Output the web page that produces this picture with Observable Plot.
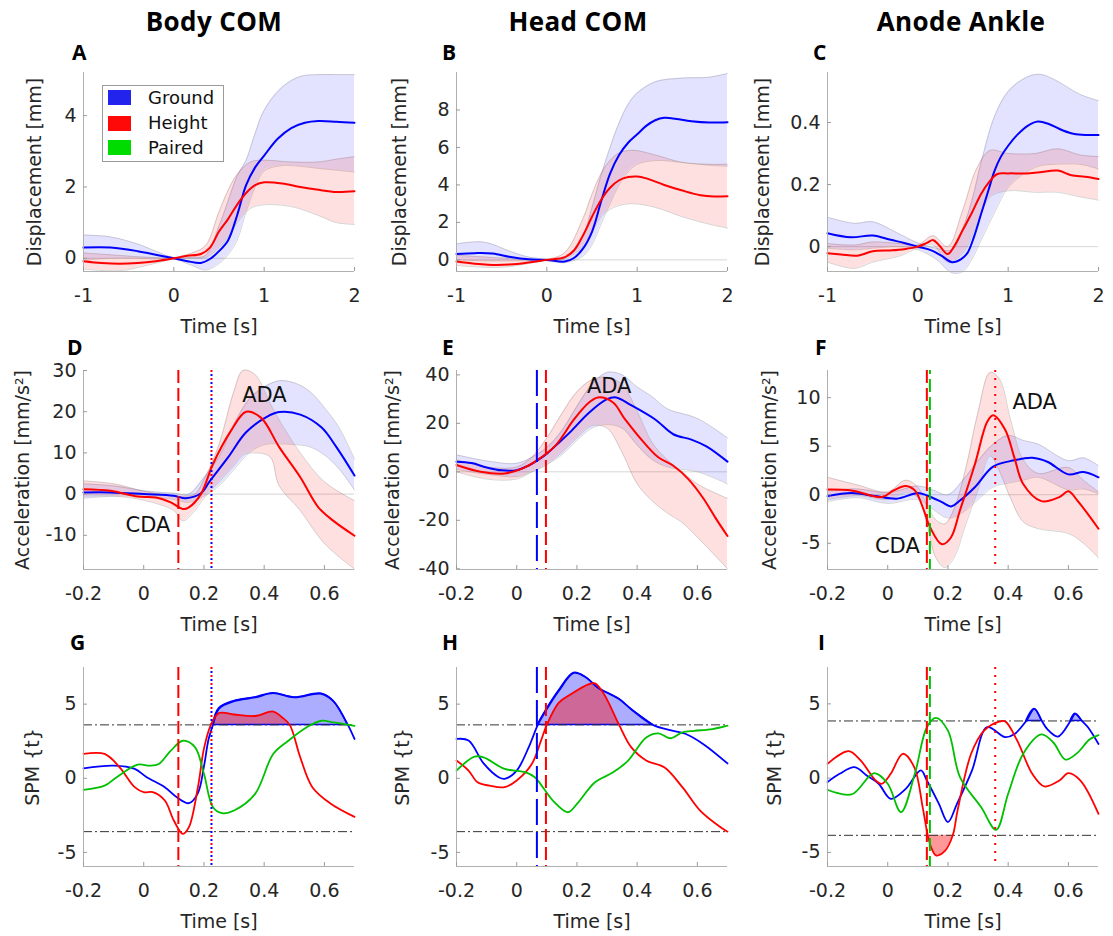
<!DOCTYPE html>
<html><head><meta charset="utf-8">
<script src="https://cdn.jsdelivr.net/npm/d3@7"></script>
<script src="https://cdn.jsdelivr.net/npm/@observablehq/plot@0.6"></script>
<style>
body{margin:0;background:#fff;}
#root{position:relative;width:1113px;height:936px;overflow:hidden;background:#fff;font-family:'DejaVu Sans',sans-serif;}
.title{position:absolute;top:6px;width:260px;text-align:center;font:bold 26px/30px 'Open Sans',sans-serif;letter-spacing:0.4px;color:#000;}
.letter{position:absolute;font:bold 21px/24px 'Open Sans',sans-serif;color:#000;}
.panel{position:absolute;}
.legend{position:absolute;left:102px;top:85px;width:120px;height:75px;border:1px solid #9a9a9a;background:#fff;}
.sw{position:absolute;left:5px;width:23px;height:15px;}
.lt{position:absolute;left:45px;font:18px/20px 'DejaVu Sans',sans-serif;color:#111;}
</style></head>
<body><div id="root"></div>
<script>
// ---------- categories / labels ----------
const columnTitles = ["Body COM", "Head COM", "Anode Ankle"];
const panelLetters = ["A","B","C","D","E","F","G","H","I"];
const legendNames = ["Ground", "Height", "Paired"];
const row1XTicks = [-1, 0, 1, 2];
const row23XTicks = [-0.2, 0, 0.2, 0.4, 0.6];
const A_yTicks = [0, 2, 4];
const B_yTicks = [0, 2, 4, 6, 8];
const C_yTicks = [0, 0.2, 0.4];
const D_yTicks = [-10, 0, 10, 20, 30];
const E_yTicks = [-40, -20, 0, 20, 40];
const F_yTicks = [-5, 0, 5, 10];
const spmYTicks = [-5, 0, 5];

// ---------- Row 1: displacement (mean [t,v], band [t,lo,hi]) ----------
const A_ground = [[-1,0.3],[-0.7,0.3],[-0.4,0.2],[-0.2,0.1],[0,0],[0.15,-0.08],[0.3,-0.13],[0.4,-0.02],[0.5,0.2],[0.6,0.5],[0.7,1.2],[0.8,2.05],[0.9,2.55],[1.0,2.88],[1.15,3.35],[1.3,3.65],[1.45,3.8],[1.6,3.85],[1.8,3.83],[2.0,3.8]];
const A_groundBand = [[-1,-0.05,0.65],[-0.7,0.0,0.6],[-0.4,0.0,0.4],[-0.2,-0.02,0.2],[0,-0.02,0.02],[0.2,-0.2,0.03],[0.35,-0.33,0.08],[0.5,-0.15,0.9],[0.6,0.1,1.6],[0.7,0.5,2.3],[0.8,1.3,2.75],[0.9,2.0,3.5],[1.0,2.45,4.15],[1.2,2.6,4.8],[1.4,2.58,5.1],[1.6,2.52,5.15],[1.8,2.47,5.15],[2.0,2.42,5.15]];
const A_height = [[-1,-0.08],[-0.8,-0.13],[-0.6,-0.15],[-0.4,-0.13],[-0.2,-0.08],[0,0],[0.15,0.07],[0.3,0.12],[0.4,0.3],[0.5,0.75],[0.6,1.1],[0.7,1.5],[0.8,1.83],[0.9,2.05],[1.0,2.13],[1.2,2.1],[1.4,2.0],[1.6,1.92],[1.8,1.86],[2.0,1.88]];
const A_heightBand = [[-1,-0.3,0.15],[-0.6,-0.35,0.08],[-0.3,-0.2,0.03],[0,-0.02,0.02],[0.2,0.0,0.15],[0.35,0.02,0.35],[0.5,0.3,1.3],[0.6,0.6,1.9],[0.7,1.0,2.35],[0.85,1.4,2.7],[1.0,1.5,2.75],[1.3,1.45,2.7],[1.6,1.2,2.7],[1.8,1.0,2.78],[2.0,0.95,2.85]];

const B_ground = [[-1,0.32],[-0.8,0.36],[-0.6,0.34],[-0.4,0.15],[-0.2,0.03],[0,0],[0.2,-0.09],[0.3,0.1],[0.4,0.6],[0.5,1.5],[0.6,3.1],[0.7,4.6],[0.8,5.6],[0.9,6.25],[1.0,6.7],[1.1,7.15],[1.2,7.45],[1.3,7.58],[1.4,7.55],[1.6,7.4],[1.8,7.33],[2.0,7.35]];
const B_groundBand = [[-1,0.0,0.85],[-0.7,-0.05,0.95],[-0.4,-0.05,0.45],[-0.2,-0.05,0.15],[0,-0.05,0.05],[0.2,-0.15,0.1],[0.4,0.2,1.3],[0.5,0.8,2.8],[0.6,1.9,4.5],[0.7,3.0,6.0],[0.8,4.0,7.3],[0.9,4.7,8.3],[1.0,5.1,8.9],[1.2,5.3,9.5],[1.5,5.2,9.7],[1.8,5.05,9.75],[2.0,5.0,9.95]];
const B_height = [[-1,-0.09],[-0.8,-0.2],[-0.55,-0.27],[-0.3,-0.2],[0,0],[0.2,0.15],[0.3,0.5],[0.4,1.3],[0.5,2.3],[0.6,3.2],[0.7,3.85],[0.8,4.25],[0.9,4.42],[1.0,4.45],[1.1,4.35],[1.3,4.0],[1.5,3.7],[1.7,3.45],[1.85,3.38],[2.0,3.4]];
const B_heightBand = [[-1,-0.3,0.25],[-0.5,-0.4,0.1],[0,-0.03,0.03],[0.2,0.05,0.4],[0.4,0.7,2.2],[0.5,1.5,3.5],[0.6,2.3,4.6],[0.7,2.7,5.3],[0.8,2.9,5.7],[0.95,3.0,5.85],[1.2,2.8,5.6],[1.5,2.3,5.2],[1.8,1.9,5.1],[2.0,1.7,5.1]];

const C_ground = [[-1,0.043],[-0.74,0.03],[-0.5,0.036],[-0.3,0.022],[-0.15,0.012],[0,0],[0.15,-0.012],[0.26,-0.029],[0.38,-0.05],[0.48,-0.04],[0.55,-0.02],[0.62,0.03],[0.7,0.105],[0.78,0.18],[0.85,0.245],[0.92,0.29],[1.0,0.325],[1.1,0.36],[1.22,0.39],[1.33,0.403],[1.45,0.395],[1.6,0.375],[1.75,0.362],[2.0,0.36]];
const C_groundBand = [[-1,-0.005,0.095],[-0.7,-0.01,0.075],[-0.5,-0.005,0.08],[-0.2,0.0,0.04],[0,-0.01,0.012],[0.2,-0.04,-0.005],[0.38,-0.085,-0.01],[0.5,-0.08,0.06],[0.6,-0.04,0.15],[0.7,0.02,0.27],[0.85,0.11,0.42],[1.0,0.19,0.5],[1.2,0.24,0.545],[1.35,0.26,0.555],[1.5,0.265,0.54],[1.8,0.265,0.49],[2.0,0.25,0.47]];
const C_height = [[-1,-0.021],[-0.85,-0.025],[-0.67,-0.029],[-0.5,-0.015],[-0.3,-0.012],[-0.15,-0.008],[0,0],[0.1,0.012],[0.17,0.021],[0.24,0.003],[0.33,-0.024],[0.4,0.0],[0.5,0.055],[0.6,0.11],[0.7,0.17],[0.78,0.205],[0.88,0.234],[1.0,0.236],[1.2,0.236],[1.35,0.24],[1.55,0.245],[1.7,0.23],[1.85,0.225],[2.0,0.218]];
const C_heightBand = [[-1,-0.05,0.01],[-0.7,-0.07,0.005],[-0.5,-0.05,0.015],[-0.2,-0.03,0.01],[0,-0.005,0.005],[0.17,0.005,0.035],[0.33,-0.05,0.0],[0.5,-0.02,0.12],[0.65,0.07,0.25],[0.8,0.16,0.31],[1.0,0.18,0.3],[1.3,0.175,0.3],[1.55,0.175,0.315],[1.8,0.16,0.295],[2.0,0.15,0.29]];

// ---------- Row 2: acceleration ----------
const D_ground = [[-0.2,0.4],[-0.11,0.4],[0,0],[0.1,-0.4],[0.14,-1.0],[0.19,0.2],[0.22,3.2],[0.28,8.9],[0.34,15],[0.41,18.8],[0.45,19.9],[0.52,19.3],[0.59,16.2],[0.64,11.4],[0.7,4.5]];
const D_groundBand = [[-0.2,-1,2.5],[-0.1,-0.5,2.0],[0,-0.5,0.8],[0.1,-1.3,0.2],[0.15,-2,0],[0.2,-0.5,4],[0.25,2,9],[0.3,6,17],[0.35,10,23],[0.4,12,26],[0.45,12.2,27.5],[0.5,12,27],[0.55,11.5,25],[0.6,9.5,21],[0.65,6,16],[0.7,1,8.5]];
const D_height = [[-0.2,1.2],[-0.11,0.8],[-0.02,-0.6],[0.04,-0.8],[0.09,-2.0],[0.13,-3.6],[0.15,-3.2],[0.19,0],[0.23,7.3],[0.29,15.4],[0.34,20],[0.39,18.5],[0.45,11.4],[0.52,4.1],[0.58,-3.2],[0.63,-6.5],[0.7,-10.1]];
const D_heightBand = [[-0.2,-0.5,3.2],[-0.1,-0.5,2.5],[0,-1.5,0.7],[0.1,-4,-0.5],[0.13,-6.5,-0.5],[0.17,-4,0],[0.2,-1,3.5],[0.25,3,12],[0.3,7,25],[0.33,9.5,30],[0.37,10,29],[0.42,9,22],[0.45,2,18],[0.52,-4,10],[0.6,-12,3],[0.7,-18.2,-1.6]];
const D_notes = [["ADA",0.401,24.1],["CDA",0.014,-7.5]];

const E_ground = [[-0.2,4.2],[-0.15,3.6],[-0.1,1.8],[-0.05,0.6],[0,0.7],[0.04,2.6],[0.07,4.8],[0.1,7.5],[0.14,12],[0.18,16.7],[0.24,24.4],[0.3,30],[0.33,30.7],[0.38,27.5],[0.46,21.6],[0.52,15.5],[0.58,13.3],[0.63,10.5],[0.7,4.2]];
const E_groundBand = [[-0.2,1,7],[-0.1,-1,4.5],[0,-2,3.5],[0.05,0,6],[0.1,3,10],[0.15,7,17],[0.2,13,27],[0.25,18,36],[0.3,19.5,41],[0.35,18,40],[0.4,11,35],[0.45,5,31],[0.5,2,26],[0.6,0,22],[0.7,-5,14]];
const E_height = [[-0.2,2.8],[-0.12,0],[-0.04,-0.7],[0.02,1.4],[0.07,4.9],[0.13,11],[0.19,21.6],[0.24,28.6],[0.27,30.7],[0.32,28.6],[0.36,21.6],[0.43,11],[0.47,6],[0.52,2.5],[0.57,-3],[0.62,-11],[0.66,-19],[0.7,-26.5]];
const E_heightBand = [[-0.2,0,5],[-0.1,-3,2],[0,-3,2],[0.05,0,6],[0.1,3,14],[0.15,8,24],[0.2,14,33],[0.25,19,38],[0.3,18,39],[0.35,8,36],[0.4,-5,25],[0.45,-12,12],[0.5,-17,5],[0.55,-21,0],[0.6,-27,-5],[0.7,-40,-11]];
const E_notes = [["ADA",0.307,35.3]];

const F_ground = [[-0.2,-0.14],[-0.12,0.17],[-0.04,-0.14],[0.03,-0.4],[0.1,0.17],[0.13,-0.07],[0.18,-0.76],[0.21,-1.2],[0.24,-0.6],[0.29,0.8],[0.35,2.9],[0.42,3.55],[0.48,3.8],[0.53,3.4],[0.6,2.1],[0.65,2.35],[0.7,1.8]];
const F_groundBand = [[-0.2,-0.7,0.4],[-0.1,-0.3,0.6],[0,-0.9,0.2],[0.1,-0.5,0.9],[0.15,-1.5,0.5],[0.2,-2.4,0],[0.25,-1.8,1.5],[0.3,-0.5,3.5],[0.35,0.8,5.2],[0.4,1.2,6.1],[0.45,1.5,5.6],[0.5,1.8,5.2],[0.6,0.5,3.5],[0.65,0.6,3.8],[0.7,0.1,3.0]];
const F_height = [[-0.2,0.55],[-0.12,0.45],[-0.02,-0.24],[0.02,0.45],[0.06,0.9],[0.09,0.45],[0.12,-1.6],[0.14,-3.3],[0.18,-5.1],[0.21,-4.4],[0.24,-1.6],[0.29,3.2],[0.33,7.5],[0.35,8.2],[0.39,6.7],[0.42,3.9],[0.45,1.1],[0.51,-0.66],[0.57,-0.24],[0.6,0.35],[0.63,-0.6],[0.7,-3.5]];
const F_heightBand = [[-0.2,-0.5,1.8],[-0.1,-0.1,1.0],[0,-0.5,0.3],[0.06,0.2,1.5],[0.1,-0.3,0.8],[0.13,-3,-1.0],[0.16,-6.5,-2.6],[0.19,-7.5,-3.0],[0.22,-6.5,-1.5],[0.26,-3,2.8],[0.3,0.5,8.5],[0.34,4,12.6],[0.37,2.5,12.0],[0.41,-0.5,7.5],[0.45,-2.8,3.6],[0.5,-3.5,2.2],[0.6,-4,2.8],[0.65,-5,1.5],[0.7,-6.5,0.3]];
const F_notes = [["ADA",0.488,9.5],["CDA",0.032,-5.3]];

// ---------- Event times (series, kind, t) per column ----------
const col1Events = [["height","dash",0.115],["height","dot",0.225],["ground","dot",0.225]];
const col2Events = [["ground","longdash",0.067],["height","dash",0.097]];
const col3Events = [["height","dash",0.13],["paired","dash",0.14],["height","dot",0.357]];

// ---------- Row 3: SPM {t} ----------
const G_ground = [[-0.2,0.67],[-0.1,0.85],[-0.03,0.63],[0.01,0.07],[0.07,-0.6],[0.11,-1.28],[0.15,-1.68],[0.18,-1.0],[0.2,0.8],[0.215,2.6],[0.23,3.6],[0.25,4.7],[0.3,5.2],[0.37,5.45],[0.43,5.74],[0.5,5.45],[0.59,5.7],[0.63,5.2],[0.678,3.6],[0.7,2.65]];
const G_height = [[-0.2,1.64],[-0.13,1.64],[-0.08,0.74],[-0.03,-0.6],[0,-0.94],[0.03,-0.94],[0.07,-1.5],[0.1,-2.85],[0.13,-3.75],[0.15,-3.3],[0.18,-0.6],[0.2,2.0],[0.223,3.6],[0.25,4.4],[0.3,4.3],[0.37,4.2],[0.43,4.5],[0.46,4.1],[0.485,3.6],[0.52,1.4],[0.56,-0.6],[0.62,-1.7],[0.7,-2.6]];
const G_paired = [[-0.2,-0.78],[-0.13,-0.5],[-0.09,0.07],[-0.02,0.92],[0.02,0.85],[0.05,0.96],[0.09,1.86],[0.13,2.53],[0.17,2.1],[0.2,0.3],[0.23,-1.95],[0.26,-2.35],[0.3,-2.17],[0.37,-1.05],[0.43,1.64],[0.48,2.53],[0.54,3.43],[0.59,3.88],[0.63,3.77],[0.7,3.54]];
const G_threshold = 3.6;
const G_clusters = [["ground","up"],["height","up"]];

const H_ground = [[-0.2,2.65],[-0.16,2.55],[-0.11,1.0],[-0.06,0.07],[-0.04,-0.04],[0,0.52],[0.04,2.1],[0.07,3.6],[0.09,4.33],[0.14,5.9],[0.19,7.1],[0.23,6.8],[0.27,6.1],[0.34,5.34],[0.38,4.66],[0.452,3.6],[0.52,3.2],[0.56,3.0],[0.62,2.3],[0.7,1.0]];
const H_height = [[-0.2,1.2],[-0.16,0.52],[-0.13,-0.27],[-0.09,-0.5],[-0.04,-0.6],[0,-0.15],[0.05,0.96],[0.08,2.5],[0.1,3.6],[0.14,5.1],[0.18,5.67],[0.24,6.35],[0.26,6.4],[0.29,5.67],[0.34,3.6],[0.38,2.1],[0.43,1.2],[0.49,0.74],[0.55,-0.6],[0.61,-2.2],[0.67,-3.2],[0.7,-3.6]];
const H_paired = [[-0.2,0.52],[-0.14,1.46],[-0.11,1.41],[-0.04,0.63],[0.03,0.4],[0.06,0.07],[0.12,-1.5],[0.17,-2.29],[0.2,-1.73],[0.26,-0.27],[0.32,0.4],[0.37,1.19],[0.43,2.75],[0.47,3.03],[0.51,2.7],[0.55,3.1],[0.59,3.2],[0.65,3.32],[0.7,3.55]];
const H_threshold = 3.6;
const H_clusters = [["ground","up"],["height","up"]];

const I_ground = [[-0.2,-0.27],[-0.16,0.29],[-0.11,0.74],[-0.07,0.18],[-0.03,-0.38],[0.01,-1.39],[0.06,-0.72],[0.11,0.52],[0.13,-0.16],[0.17,-1.73],[0.2,-2.96],[0.23,-1.73],[0.28,0.52],[0.33,3.43],[0.39,2.76],[0.42,2.95],[0.46,3.85],[0.487,4.66],[0.512,3.85],[0.53,3.3],[0.565,2.8],[0.607,3.85],[0.623,4.33],[0.645,3.85],[0.665,3.43],[0.7,2.3]];
const I_height = [[-0.2,0.96],[-0.13,1.82],[-0.09,1.19],[-0.04,-0.16],[-0.02,-0.38],[0.01,0.29],[0.05,1.64],[0.088,0.74],[0.116,-1.95],[0.133,-3.85],[0.145,-4.7],[0.16,-5.2],[0.19,-4.9],[0.216,-3.85],[0.232,-2.17],[0.277,1.64],[0.32,3.2],[0.37,3.8],[0.39,3.82],[0.43,2.53],[0.48,0.29],[0.52,-0.56],[0.57,-0.16],[0.6,0.34],[0.64,-0.16],[0.7,-2.4]];
const I_paired = [[-0.2,-0.78],[-0.12,-1.1],[-0.045,0.34],[0,-0.38],[0.044,-2.29],[0.09,0.29],[0.13,3.43],[0.16,4.06],[0.2,3.2],[0.24,0.07],[0.31,-1.95],[0.36,-3.48],[0.4,-1.05],[0.45,1.64],[0.51,2.94],[0.55,2.4],[0.59,1.25],[0.63,1.7],[0.67,2.6],[0.7,2.9]];
const I_threshold = 3.85;
const I_clusters = [["ground","up"],["height","down"]];

// ---------- styling ----------
const COLOR = {ground: "#0000ff", height: "#ff0000", paired: "#00c000"};
const BAND_OPACITY = {ground: 0.11, height: 0.12};
const CLUSTER_OPACITY = {ground: 0.32, height: 0.4};
const DASH = {dash: "13,5", longdash: "26,7", dot: "2,6"};
const CURVE = "catmull-rom";
const FONT = "'DejaVu Sans', 'Liberation Sans', sans-serif";
const FS = 19;

const fx = d => d[0], fy = d => d[1];

function band(data, key) {
  return [
    Plot.areaY(data, {x: fx, y1: d => d[1], y2: d => d[2], fill: COLOR[key], fillOpacity: BAND_OPACITY[key], curve: CURVE}),
    Plot.line(data, {x: fx, y: d => d[1], stroke: "#7a7a7a", strokeOpacity: 0.3, strokeWidth: 1, curve: CURVE}),
    Plot.line(data, {x: fx, y: d => d[2], stroke: "#7a7a7a", strokeOpacity: 0.3, strokeWidth: 1, curve: CURVE})
  ];
}
function curveLine(data, key, w = 2) {
  return Plot.line(data, {x: fx, y: fy, stroke: COLOR[key], strokeWidth: w, curve: CURVE});
}
function eventRules(events) {
  return events.map(([key, kind, t]) => {
    const off = (kind === "dot" && key === "ground") ? 4 : (key === "paired" ? 9 : 0);
    return Plot.ruleX([t], {stroke: COLOR[key], strokeWidth: 2, strokeDasharray: DASH[kind], strokeDashoffset: off});
  });
}
function notes(n) {
  return n ? [Plot.text(n, {x: d => d[1], y: d => d[2], text: d => d[0], fill: "#111", fontSize: 21, fontFamily: FONT})] : [];
}
function clusterMarks(series, thr, clusters) {
  const fills = [], outlines = [];
  for (const [key, dir] of clusters) {
    const t = dir === "up" ? thr : -thr;
    const y2 = dir === "up" ? (d => d[1] >= thr ? d[1] : NaN) : (d => d[1] <= -thr ? d[1] : NaN);
    fills.push(Plot.areaY(series[key], {x: fx, y1: t, y2, fill: COLOR[key], fillOpacity: CLUSTER_OPACITY[key], curve: CURVE}));
    if (key === "ground") outlines.push(Plot.areaY(series[key], {x: fx, y1: t, y2, fill: "none", stroke: COLOR[key], strokeWidth: 1.5, curve: CURVE}));
  }
  return [...fills, ...outlines];
}

function makePlot(p) {
  return Plot.plot({
    width: 368, height: 279,
    marginLeft: 83, marginRight: 14, marginTop: 10, marginBottom: 70,
    x: {domain: p.xDomain},
    y: {domain: p.yDomain},
    style: {fontFamily: FONT, fontSize: FS + "px", color: "#262626", background: "transparent", overflow: "visible"},
    marks: [
      ...p.marks,
      Plot.ruleX([p.xDomain[0]], {stroke: "#b0b0b0", strokeWidth: 1}),
      Plot.ruleY([p.yDomain[0]], {stroke: "#b0b0b0", strokeWidth: 1}),
      Plot.axisX(p.xTicks, {tickSize: -4, tickPadding: 21, tickFormat: d => String(d), stroke: "#9a9a9a", fill: "#262626",
        fontSize: FS, fontFamily: FONT,
        label: "Time [s]", labelAnchor: "center", labelOffset: 61, labelArrow: "none"}),
      Plot.axisY(p.yTicks, {tickSize: -4, tickPadding: 11, tickFormat: d => String(d), stroke: "#9a9a9a", fill: "#262626",
        fontSize: FS, fontFamily: FONT,
        label: p.yLabel, labelAnchor: "center", labelOffset: p.yOff, labelArrow: "none"})
    ]
  });
}

function meanMarks(g, gb, h, hb, events, n) {
  return [
    Plot.ruleY([0], {stroke: "#d6d6d6", strokeWidth: 1}),
    ...band(gb, "ground"), ...band(hb, "height"),
    curveLine(g, "ground"), curveLine(h, "height"),
    ...eventRules(events || []), ...notes(n)
  ];
}
function spmMarks(series, thr, clusters, events) {
  return [
    ...clusterMarks(series, thr, clusters),
    Plot.ruleY([thr, -thr], {stroke: "#333", strokeWidth: 1, strokeDasharray: "9,3,2,3"}),
    curveLine(series.ground, "ground", 1.8), curveLine(series.height, "height", 1.8), curveLine(series.paired, "paired", 1.8),
    ...eventRules(events)
  ];
}

const colLeft = [0, 373, 744];
const rowTop = [62, 360, 657];
const panels = [
  {r:0,c:0, xDomain:[-1,2], xTicks: row1XTicks, yDomain:[-0.37,5.21], yTicks:A_yTicks, yLabel:"Displacement [mm]", yOff:56, marks: meanMarks(A_ground, A_groundBand, A_height, A_heightBand)},
  {r:0,c:1, xDomain:[-1,2], xTicks: row1XTicks, yDomain:[-0.62,10.0], yTicks:B_yTicks, yLabel:"Displacement [mm]", yOff:64, marks: meanMarks(B_ground, B_groundBand, B_height, B_heightBand)},
  {r:0,c:2, xDomain:[-1,2], xTicks: row1XTicks, yDomain:[-0.08,0.561], yTicks:C_yTicks, yLabel:"Displacement [mm]", yOff:72, marks: meanMarks(C_ground, C_groundBand, C_height, C_heightBand)},
  {r:1,c:0, xDomain:[-0.2,0.7], xTicks: row23XTicks, yDomain:[-18.3,30], yTicks:D_yTicks, yLabel:"Acceleration [mm/s²]", yOff:68, marks: meanMarks(D_ground, D_groundBand, D_height, D_heightBand, col1Events, D_notes)},
  {r:1,c:1, xDomain:[-0.2,0.7], xTicks: row23XTicks, yDomain:[-40.3,41.8], yTicks:E_yTicks, yLabel:"Acceleration [mm/s²]", yOff:71, marks: meanMarks(E_ground, E_groundBand, E_height, E_heightBand, col2Events, E_notes)},
  {r:1,c:2, xDomain:[-0.2,0.7], xTicks: row23XTicks, yDomain:[-7.7,12.8], yTicks:F_yTicks, yLabel:"Acceleration [mm/s²]", yOff:65, marks: meanMarks(F_ground, F_groundBand, F_height, F_heightBand, col3Events, F_notes)},
  {r:2,c:0, xDomain:[-0.2,0.7], xTicks: row23XTicks, yDomain:[-5.95,7.47], yTicks:spmYTicks, yLabel:"SPM {t}", yOff:58, marks: spmMarks({ground:G_ground, height:G_height, paired:G_paired}, G_threshold, G_clusters, col1Events)},
  {r:2,c:1, xDomain:[-0.2,0.7], xTicks: row23XTicks, yDomain:[-5.95,7.47], yTicks:spmYTicks, yLabel:"SPM {t}", yOff:61, marks: spmMarks({ground:H_ground, height:H_height, paired:H_paired}, H_threshold, H_clusters, col2Events)},
  {r:2,c:2, xDomain:[-0.2,0.7], xTicks: row23XTicks, yDomain:[-5.95,7.45], yTicks:spmYTicks, yLabel:"SPM {t}", yOff:60, marks: spmMarks({ground:I_ground, height:I_height, paired:I_paired}, I_threshold, I_clusters, col3Events)}
];

const root = document.getElementById("root");
panels.forEach(p => {
  const div = document.createElement("div");
  div.className = "panel";
  div.style.left = colLeft[p.c] + "px";
  div.style.top = rowTop[p.r] + "px";
  div.appendChild(makePlot(p));
  root.appendChild(div);
});

// titles
const titleCenters = [214, 578, 961];
columnTitles.forEach((t, i) => {
  const d = document.createElement("div");
  d.className = "title"; d.textContent = t;
  d.style.left = (titleCenters[i] - 130) + "px";
  root.appendChild(d);
});
// panel letters
const letterPos = [[72,40],[442,40],[813,40],[67,335],[442,335],[815,335],[70,630],[442,630],[818,630]];
panelLetters.forEach((l, i) => {
  const d = document.createElement("div");
  d.className = "letter"; d.textContent = l;
  d.style.left = letterPos[i][0] + "px"; d.style.top = letterPos[i][1] + "px";
  root.appendChild(d);
});
// legend
const legendSwatch = ["#2323ee", "#ff0808", "#00dc00"];
const lg = document.createElement("div");
lg.className = "legend";
legendNames.forEach((n, i) => {
  const s = document.createElement("div");
  s.className = "sw"; s.style.top = [4, 30, 54][i] + "px"; s.style.background = legendSwatch[i];
  const t = document.createElement("div");
  t.className = "lt"; t.style.top = [2, 27, 52][i] + "px"; t.textContent = n;
  lg.appendChild(s); lg.appendChild(t);
});
root.appendChild(lg);
</script>
</body></html>
